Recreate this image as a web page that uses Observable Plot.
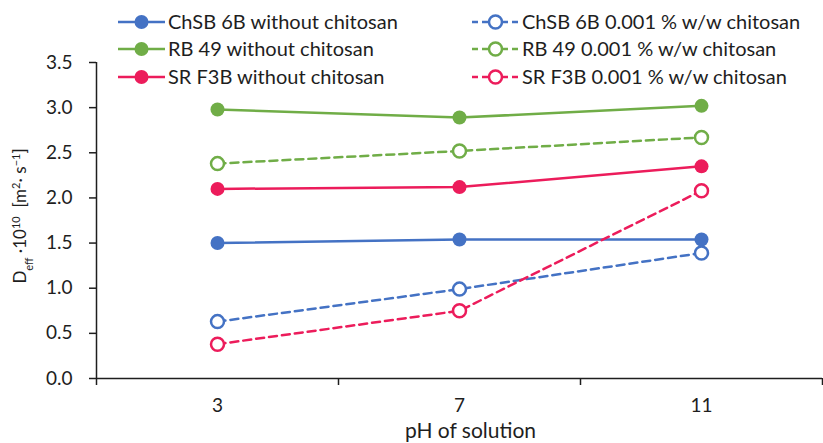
<!DOCTYPE html>
<html><head><meta charset="utf-8">
<script src="https://cdn.jsdelivr.net/npm/d3@7"></script>
<script src="https://cdn.jsdelivr.net/npm/@observablehq/plot@0.6"></script>
<style>
body{margin:0;background:#fff;}
#chart{position:relative;width:823px;height:443px;}
#chart svg{font-family:Lato,"Open Sans",sans-serif;}
</style>
</head><body><div id="chart"></div>
<script>
const pH = [3, 7, 11];
const bandEdges = [1, 5, 9, 13];
const yTicks = [0, 0.5, 1, 1.5, 2, 2.5, 3, 3.5];
const seriesNames = [
  "ChSB 6B without chitosan",
  "RB 49 without chitosan",
  "SR F3B without chitosan",
  "ChSB 6B 0.001 % w/w chitosan",
  "RB 49 0.001 % w/w chitosan",
  "SR F3B 0.001 % w/w chitosan"
];
const chsbWithout = [1.50, 1.54, 1.54];
const rbWithout   = [2.98, 2.89, 3.02];
const srWithout   = [2.10, 2.12, 2.35];
const chsbWith    = [0.63, 0.99, 1.39];
const rbWith      = [2.38, 2.52, 2.67];
const srWith      = [0.38, 0.75, 2.08];
const seriesColors = ["#4472C4", "#70AD47", "#EC1C5B", "#4472C4", "#70AD47", "#EC1C5B"];
const seriesValues = [chsbWithout, rbWithout, srWithout, chsbWith, rbWith, srWith];

const data = seriesNames.flatMap((name, i) =>
  pH.map((p, j) => ({series: name, pH: p, value: seriesValues[i][j], chitosan: i >= 3})));
const solid = data.filter(d => !d.chitosan);
const dashed = data.filter(d => d.chitosan);
const ink = "#1e1e1e";
const fs = 20;
const tickFs = 19;

const svg = Plot.plot({
  width: 823, height: 443,
  marginLeft: 96, marginRight: 1, marginTop: 62, marginBottom: 65,
  style: {fontFamily: "Lato, 'Open Sans', sans-serif", color: ink, background: "white"},
  x: {type: "linear", domain: [1, 13]},
  y: {domain: [0, 3.5]},
  color: {domain: seriesNames, range: seriesColors},
  marks: [
    Plot.axisY({ticks: yTicks, tickFormat: d3.format(".1f"), tickSize: 7, tickPadding: 17, fontSize: tickFs, label: null, stroke: ink, strokeWidth: 1.5}),
    Plot.axisX({ticks: bandEdges, tickSize: 7, tickFormat: () => "", label: null, stroke: ink, strokeWidth: 1.5}),
    Plot.axisX({ticks: pH, tickSize: 0, tickPadding: 20, fontSize: tickFs, label: null}),
    Plot.ruleX([1], {stroke: ink, strokeWidth: 1.5}),
    Plot.ruleY([0], {stroke: ink, strokeWidth: 1.5}),
    Plot.line(solid, {x: "pH", y: "value", z: "series", stroke: "series", strokeWidth: 2.5}),
    Plot.line(dashed, {x: "pH", y: "value", z: "series", stroke: "series", strokeWidth: 2.5, strokeDasharray: "8,5"}),
    Plot.dot(solid, {x: "pH", y: "value", fill: "series", r: 7}),
    Plot.dot(dashed, {x: "pH", y: "value", stroke: "series", fill: "white", r: 6.5, strokeWidth: 2.5}),
    Plot.text(["pH of solution"], {frameAnchor: "bottom", dx: 11, dy: 59, fontSize: 21, fill: ink})
  ]
});
document.getElementById("chart").appendChild(svg);

const s = d3.select(svg);
// Y axis title
const yl = s.append("text")
  .attr("transform", "translate(26,216) rotate(-90)")
  .attr("text-anchor", "middle")
  .attr("font-size", 17).attr("fill", ink);
yl.append("tspan").text("D");
yl.append("tspan").attr("baseline-shift", "sub").attr("font-size", 11).text("eff");
yl.append("tspan").text(" ·10");
yl.append("tspan").attr("baseline-shift", "super").attr("font-size", 11).text("10");
yl.append("tspan").text("  [m");
yl.append("tspan").attr("baseline-shift", "super").attr("font-size", 11).text("2");
yl.append("tspan").text("· s");
yl.append("tspan").attr("baseline-shift", "super").attr("font-size", 11).text("−1");
yl.append("tspan").text("]");

// Legend
const rowsY = [22, 49, 77];
const legend = s.append("g").attr("font-size", fs).attr("fill", ink).attr("text-anchor", "start");
seriesNames.forEach((name, i) => {
  const col = i < 3 ? 0 : 1;
  const y = rowsY[i % 3];
  const x0 = col === 0 ? 118 : 472;
  const x1 = col === 0 ? 165 : 519;
  const cx = (x0 + x1) / 2;
  const g = legend.append("g");
  g.append("line").attr("x1", x0).attr("x2", x1).attr("y1", y).attr("y2", y)
    .attr("stroke", seriesColors[i]).attr("stroke-width", 2.5)
    .attr("stroke-dasharray", col === 1 ? "6,4" : null);
  g.append("circle").attr("cx", cx).attr("cy", y).attr("r", col === 0 ? 7 : 6.5)
    .attr("fill", col === 0 ? seriesColors[i] : "white")
    .attr("stroke", col === 1 ? seriesColors[i] : "none").attr("stroke-width", 2.5);
  g.append("text").attr("x", x1 + 3).attr("y", y).attr("dy", "0.35em").text(name);
});
</script>
</body></html>
